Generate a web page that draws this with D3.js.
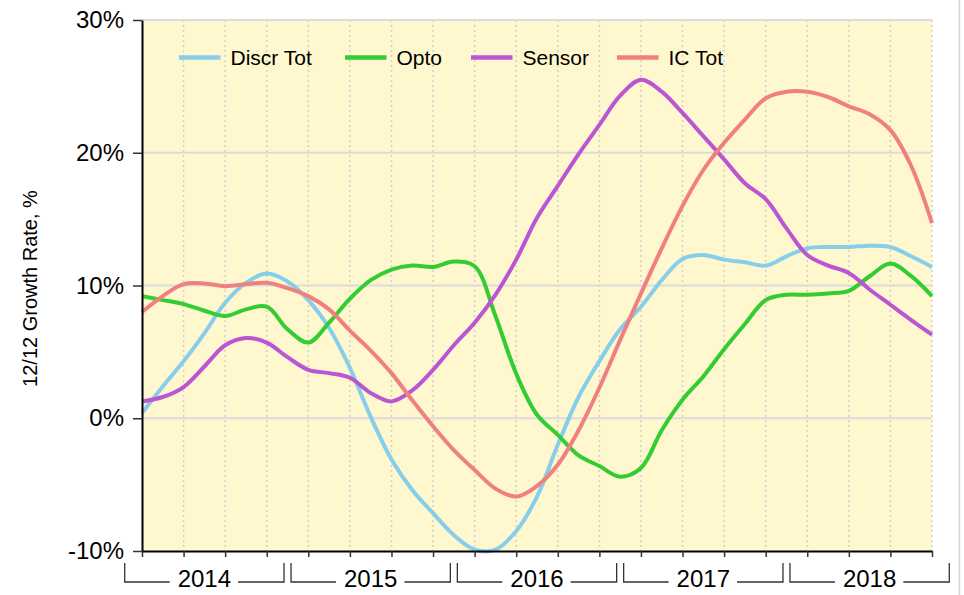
<!DOCTYPE html>
<html>
<head>
<meta charset="utf-8">
<script src="https://cdn.jsdelivr.net/npm/d3@7"></script>
<style>
  body { margin: 0; background: #ffffff; }
  #chart { width: 964px; height: 595px; }
</style>
</head>
<body>
<div id="chart"></div>
<script>
const years = ["2014", "2015", "2016", "2017", "2018"];
const yTicks = [-10, 0, 10, 20, 30];
const seriesNames = ["Discr Tot", "Opto", "Sensor", "IC Tot"];
const seriesColors = ["#87ceeb", "#32cd32", "#ba55d3", "#f08080"];
const samplePos = d3.range(0, 19.5, 0.5); // position in quarters

const discrTot = [0.4, 2.4, 4.3, 6.4, 8.7, 10.2, 10.9, 10.3, 8.9, 6.8,
    3.8, 0.1, -3.1, -5.4, -7.15, -8.8, -9.9, -9.9, -8.5, -5.9,
    -2.0, 1.6, 4.3, 6.7, 8.4, 10.4, 12.0, 12.3, 11.95, 11.75,
    11.5, 12.2, 12.8, 12.9, 12.9, 13.0, 12.9, 12.2, 11.4];
const opto = [9.2, 8.9, 8.6, 8.1, 7.7, 8.2, 8.4, 6.7, 5.7, 7.2,
    9.0, 10.4, 11.2, 11.5, 11.4, 11.8, 11.45, 7.7, 3.35, 0.26,
    -1.25, -2.8, -3.6, -4.4, -3.75, -0.9, 1.4, 3.15, 5.2, 7.1,
    8.9, 9.3, 9.3, 9.4, 9.6, 10.7, 11.65, 10.7, 9.2];
const sensor = [1.27, 1.6, 2.35, 3.9, 5.5, 6.05, 5.7, 4.6, 3.65, 3.4,
    3.05, 1.9, 1.27, 2.1, 3.65, 5.5, 7.2, 9.3, 11.95, 15.1,
    17.5, 19.9, 22.1, 24.3, 25.5, 24.6, 23.0, 21.25, 19.5, 17.7,
    16.5, 14.3, 12.3, 11.5, 10.95, 9.7, 8.55, 7.4, 6.3];
const icTot = [8.0, 9.2, 10.1, 10.15, 9.95, 10.1, 10.2, 9.8, 9.2, 8.2,
    6.6, 5.1, 3.4, 1.35, -0.6, -2.4, -3.9, -5.3, -5.9, -5.1,
    -3.5, -0.9, 2.3, 5.9, 9.4, 12.8, 16.0, 18.7, 20.75, 22.5,
    24.1, 24.6, 24.6, 24.2, 23.5, 22.9, 21.7, 19.0, 14.7];

const font = "Liberation Sans, Arial, sans-serif";
const margin = {top: 20, right: 32, bottom: 44, left: 142};
const width = 790;
const height = 531;

var root = d3.select("#chart").append("svg")
    .attr("width", 964)
    .attr("height", 595);

// Light frame line on the right edge of the picture
root.append("line")
    .attr("x1", 959.5).attr("x2", 959.5)
    .attr("y1", 0).attr("y2", 595)
    .attr("stroke", "#d4d4d4")
    .attr("stroke-width", 1.5);

var svg = root.append("g")
    .attr("transform", "translate(" + margin.left + "," + margin.top + ")");

var x = d3.scaleLinear().domain([0, 19]).range([0, width]);
var y = d3.scaleLinear().domain([-10, 30]).range([height, 0]);
var step = x(1) - x(0);

// Plot background
svg.append("rect")
    .attr("width", width)
    .attr("height", height)
    .attr("fill", "#fff8cf");

// Vertical dotted gridlines at each quarter
svg.append("g")
    .selectAll("line")
    .data(d3.range(1, 20))
    .enter()
    .append("line")
    .attr("x1", d => x(d)).attr("x2", d => x(d))
    .attr("y1", 0).attr("y2", height)
    .attr("stroke", "#cfcfcf")
    .attr("stroke-width", 1.5)
    .attr("stroke-dasharray", "2,3");

// Horizontal gridlines
svg.append("g")
    .selectAll("line")
    .data(yTicks.filter(d => d > -10))
    .enter()
    .append("line")
    .attr("x1", 0).attr("x2", width)
    .attr("y1", d => y(d)).attr("y2", d => y(d))
    .attr("stroke", "#dcdcdc")
    .attr("stroke-width", 2);

// Series lines (smoothed through the read points)
var allSeries = [discrTot, opto, sensor, icTot];
var line = d3.line()
    .x((d, i) => x(samplePos[i]))
    .y(d => y(d))
    .curve(d3.curveCatmullRom.alpha(0.5));

svg.append("g")
    .selectAll("path")
    .data(allSeries)
    .enter()
    .append("path")
    .attr("fill", "none")
    .attr("stroke", (d, i) => seriesColors[i])
    .attr("stroke-width", 4)
    .attr("stroke-linejoin", "round")
    .attr("d", d => line(d));

// Y axis
var yAxis = svg.append("g")
    .call(d3.axisLeft(y).tickValues(yTicks).tickFormat(d => d + "%")
        .tickSize(9).tickSizeOuter(0).tickPadding(9));
yAxis.select(".domain").attr("stroke", "#000").attr("stroke-width", 2);
yAxis.selectAll(".tick line").attr("stroke", "#333").attr("stroke-width", 1.5);
yAxis.selectAll(".tick text")
    .attr("font-family", font)
    .style("font-size", "24px")
    .attr("fill", "#000");

// X axis, ticks only
var xAxis = svg.append("g")
    .attr("transform", `translate(0,${height})`)
    .call(d3.axisBottom(x).tickValues(d3.range(0, 20)).tickFormat("")
        .tickSize(6).tickSizeOuter(0));
xAxis.select(".domain").attr("stroke", "#000").attr("stroke-width", 2);
xAxis.selectAll(".tick line").attr("stroke", "#333").attr("stroke-width", 1.5);

// Year brackets under the axis
var bracketTop = height + 12;
var bracketY = height + 31;
years.forEach(function(yr, i) {
    var left = x(i * 4) - step / 2 + 3.5;
    var right = x(i * 4 + 3) + step / 2 - 3.5;
    var mid = (left + right) / 2;
    var label = svg.append("text")
        .attr("font-family", font)
        .style("font-size", "24px")
        .attr("text-anchor", "middle")
        .attr("x", mid)
        .attr("y", height + 36)
        .text(yr);
    var tw = label.node().getComputedTextLength();
    svg.append("path")
        .attr("fill", "none")
        .attr("stroke", "#333")
        .attr("stroke-width", 1.3)
        .attr("d", `M${left},${bracketTop}V${bracketY}H${mid - tw / 2 - 8}` +
            `M${mid + tw / 2 + 7},${bracketY}H${right}V${bracketTop}`);
});

// Y axis title
svg.append("text")
    .attr("font-family", font)
    .style("font-size", "20px")
    .attr("text-anchor", "middle")
    .attr("transform", "rotate(-90)")
    .attr("x", -(y(10) + 3))
    .attr("y", -105)
    .text("12/12 Growth Rate, %");

// Legend
var legendX = [37, 203, 329, 475];
seriesNames.forEach(function(name, i) {
    svg.append("line")
        .attr("x1", legendX[i]).attr("x2", legendX[i] + 41.5)
        .attr("y1", 37.5).attr("y2", 37.5)
        .attr("stroke", seriesColors[i])
        .attr("stroke-width", 4.5);
    svg.append("text")
        .attr("font-family", font)
        .style("font-size", "21px")
        .attr("x", legendX[i] + 51.5)
        .attr("y", 37.5)
        .attr("dominant-baseline", "central")
        .text(name);
});
</script>
</body>
</html>
